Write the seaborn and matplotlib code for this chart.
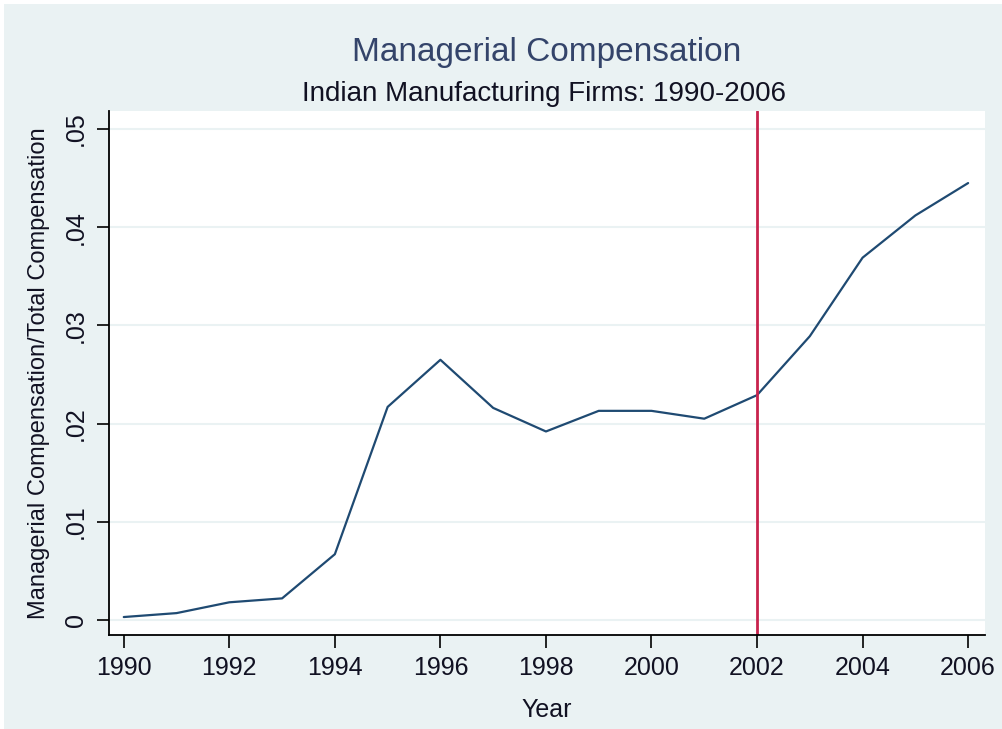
import numpy as np
import pandas as pd
import seaborn as sns
import matplotlib.pyplot as plt
from matplotlib.patches import Rectangle

# datos
anios = [1990, 1991, 1992, 1993, 1994, 1995, 1996, 1997, 1998,
         1999, 2000, 2001, 2002, 2003, 2004, 2005, 2006]
ratio = [0.0003, 0.0007, 0.0018, 0.0022, 0.0067, 0.0217, 0.0265, 0.0216, 0.0192,
         0.0213, 0.0213, 0.0205, 0.0229, 0.0289, 0.0369, 0.0412, 0.0445]
anio_corte = 2002
x_ticks = [1990, 1992, 1994, 1996, 1998, 2000, 2002, 2004, 2006]
y_ticks = [0, 0.01, 0.02, 0.03, 0.04, 0.05]
y_labels = ['0', '.01', '.02', '.03', '.04', '.05']

df = pd.DataFrame({'Year': anios, 'ratio': ratio})

sns.set_style('white')
plt.rcParams['font.family'] = ['Liberation Sans', 'DejaVu Sans']

fig = plt.figure(figsize=(10.02, 7.29), dpi=100)
# fondo gris azulado estilo stata con borde blanco arriba y a la izquierda
fig.patch.set_facecolor('#eaf2f3')
fig.patches.append(Rectangle((0, 0), 4 / 1002, 1, transform=fig.transFigure,
                             facecolor='white', edgecolor='none'))
fig.patches.append(Rectangle((0, 1 - 4 / 729), 1, 4 / 729, transform=fig.transFigure,
                             facecolor='white', edgecolor='none'))

ax = fig.add_axes([109 / 1002, 94 / 729, 876 / 1002, 524 / 729])
ax.set_facecolor('white')

sns.lineplot(data=df, x='Year', y='ratio', ax=ax, color='#1f4a72', linewidth=1.6)
ax.axvline(anio_corte, color='#c8234d', linewidth=2)

ax.set_xlim(1989.72, 2006.32)
ax.set_ylim(-0.00153, 0.05184)
ax.set_xticks(x_ticks)
ax.set_yticks(y_ticks)
ax.set_yticklabels(y_labels, rotation=90, va='center')
ax.tick_params(axis='both', direction='out', length=9, width=1.2, color='black',
               labelsize=18, pad=6, left=True, bottom=True, labelcolor='#111122')
ax.yaxis.grid(True, color='#eaf2f3', linewidth=1.5)
ax.xaxis.grid(False)

for s in ['top', 'right']:
    ax.spines[s].set_visible(False)
for s in ['left', 'bottom']:
    ax.spines[s].set_color('black')
    ax.spines[s].set_linewidth(1.3)

ax.set_xlabel('Year', fontsize=18, labelpad=13, color='#111122')
ax.set_ylabel('Managerial Compensation/Total Compensation', fontsize=17, labelpad=10,
              color='#111122')

fig.text(547 / 1002, 1 - 53 / 729, 'Managerial Compensation', ha='center', va='center',
         fontsize=24, color='#34446a')
fig.text(544 / 1002, 1 - 94 / 729, 'Indian Manufacturing Firms: 1990-2006', ha='center',
         va='center', fontsize=20, color='#111122')

plt.savefig('out.png', dpi=100, facecolor=fig.get_facecolor())
